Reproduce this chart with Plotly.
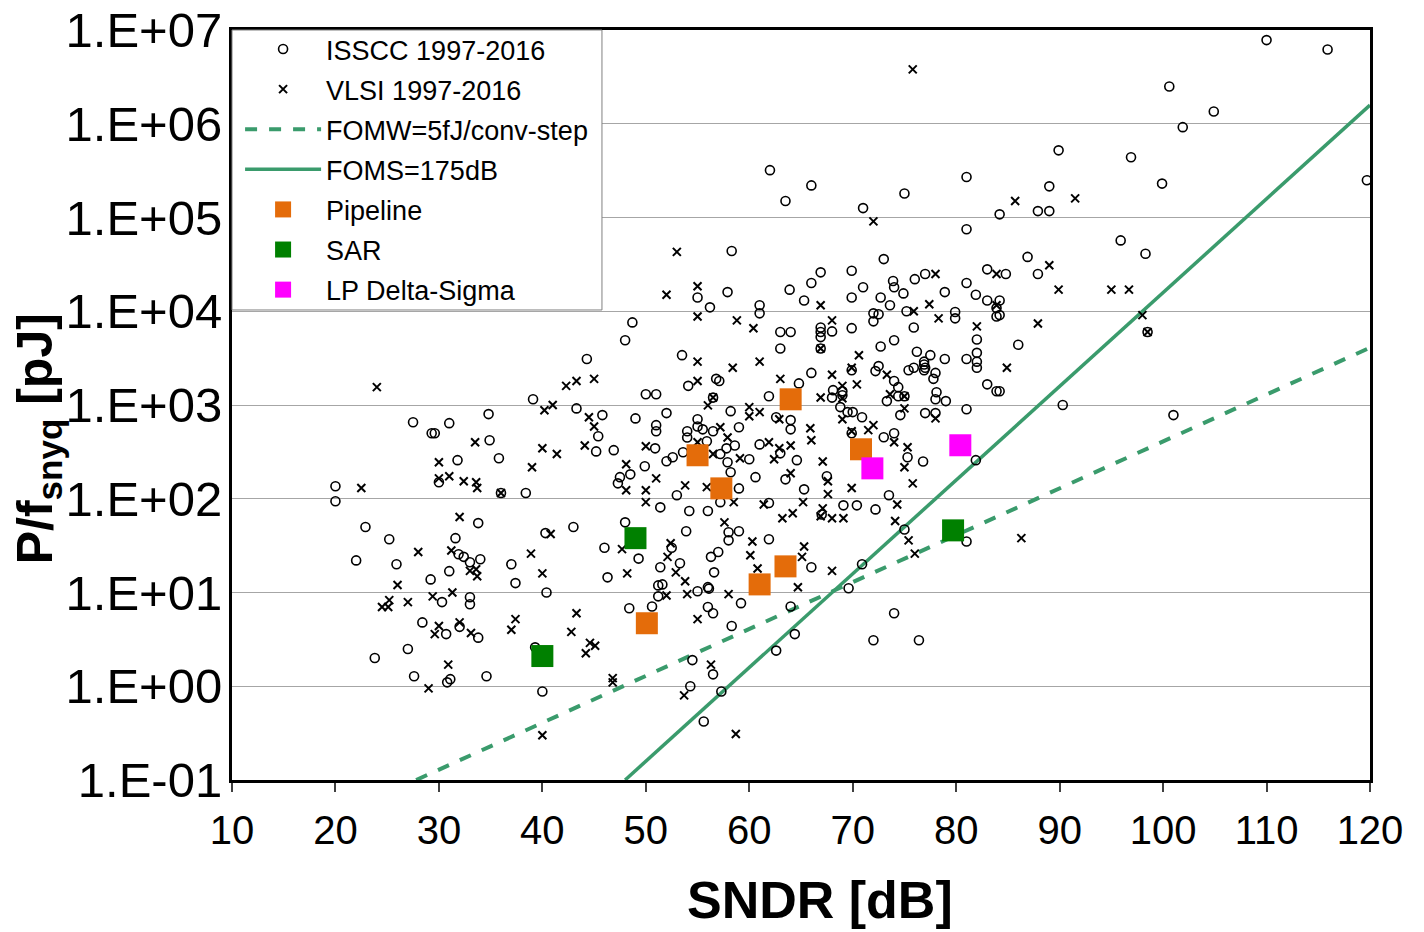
import plotly.graph_objects as go

# ---------------- data ----------------
isscc_sndr = [
    110.0, 115.9, 100.6, 104.9, 101.9, 119.7, 89.9, 96.9, 99.9, 89.0, 87.9, 89.0, 84.2, 95.9, 98.3, 86.9, 87.9, 84.8, 84.2, 84.2, 98.5, 86.0, 84.2, 90.3, 101.0,
    62.0, 66.0, 63.5, 71.0, 75.0, 81.0, 81.0, 58.3, 73.0, 66.9, 69.9, 73.9, 74.0, 76.0, 77.0, 81.0, 83.0, 78.9, 81.9, 83.0, 55.0, 57.9, 63.9, 66.0, 71.0, 69.9, 72.7, 74.9, 65.3,
    61.0, 61.0, 56.2, 63.0, 64.0, 63.0, 48.7, 48.0, 53.5, 44.3, 50.0, 51.0, 54.1, 56.8, 57.1, 64.8, 56.5, 61.9, 43.3, 45.8,
    45.4, 45.2, 49.0, 52.0, 46.9, 50.9, 51.0, 51.0, 55.0, 55.0, 55.5, 54.0, 54.0, 56.5, 59.0, 58.2, 62.6, 64.0, 64.0, 55.9,
    58.6, 57.8, 61.0, 63.0, 57.2, 53.6, 52.6, 52.0, 57.9, 60.0, 64.6, 49.9,
    73.6, 72.0, 72.5, 72.0, 75.2, 66.9, 66.9, 66.9, 68.0, 69.9, 79.9, 79.9, 83.9, 83.9, 75.9, 74.0, 72.7, 82.0, 66.9, 76.2,
    77.5, 76.9, 76.9, 76.9, 78.9, 81.0, 82.0, 82.0, 82.0, 66.0, 69.9, 72.2, 72.5, 74.0, 75.4, 75.9, 77.0, 78.0, 77.8, 83.0,
    83.9, 68.1, 69.0, 69.0, 68.0, 74.4, 73.3, 74.4, 75.0, 78.1, 78.0, 79.0, 68.8, 69.5, 70.0, 70.9, 74.6, 77.0, 78.0, 81.0,
    69.9, 74.0, 73.0, 75.3, 76.8, 81.9,
    32.9, 39.1, 27.5, 29.3, 29.6, 31.0, 34.8, 34.9, 35.8, 31.8,
    20.0, 20.0, 30.0, 36.0, 38.4, 33.8, 22.9, 25.2, 31.6, 40.3, 31.9, 32.4, 33.0, 34.0, 22.0, 25.9, 31.0, 29.2, 37.0, 37.4,
    40.4, 30.3, 33.0, 33.0, 28.4, 30.7, 32.0, 33.8,
    23.8, 27.0, 27.6, 30.8, 31.1, 34.6, 40.0, 39.3,
    47.5, 47.3, 48.5, 53.0, 59.0, 60.6, 63.5, 58.2, 57.2, 61.9, 51.4, 54.2, 56.0, 43.0, 48.0, 53.9, 58.0, 59.0, 58.0, 61.9,
    46.0, 49.3, 52.5, 53.3, 51.4, 57.0, 56.3, 56.6, 46.3, 51.2, 51.6, 51.2, 55.0, 56.0, 56.1, 59.2, 64.0, 48.4, 50.6, 56.0,
    56.5, 58.3, 64.4,
    54.5, 56.5, 54.3, 57.3, 55.6, 62.6,
    67.5, 65.3, 73.5, 69.1, 70.4, 72.2, 67.0, 75.0, 81.0, 66.0, 70.9, 69.6, 74.0, 72.0, 76.4,
]
isscc_energy = [
    7.8e6, 6.2e6, 2.5e6, 1.35e6, 9.2e5, 2.5e5, 5.2e5, 4.4e5, 2.3e5, 2.15e5, 1.17e5, 1.17e5, 1.08e5, 5.7e4, 4.1e4, 3.8e4, 2.5e4, 2.5e4, 1.3e4, 9.1e3, 6.0e3, 4.4e3, 1.4e3, 1.0e3, 780,
    3.2e5, 2.2e5, 1.5e5, 1.26e5, 1.8e5, 2.7e5, 7.5e4, 4.4e4, 3.6e4, 2.6e4, 2.7e4, 2.1e4, 1.8e4, 2.2e4, 2.5e4, 2.0e4, 2.8e4, 1.6e4, 1.5e4, 1.3e4, 1.4e4, 1.6e4, 1.7e4, 2.0e4, 1.8e4, 1.4e4, 1.4e4, 1.55e4, 1.3e4,
    1.16e4, 9.5e3, 1.1e4, 6.0e3, 6.0e3, 4.0e3, 7.6e3, 4.9e3, 3.4e3, 3.1e3, 1.3e3, 1.3e3, 1.6e3, 1.9e3, 1.8e3, 1.7e3, 1.2e3, 1.24e3, 920, 780,
    465, 320, 720, 820, 330, 345, 610, 525, 705, 590, 550, 525, 450, 525, 580, 860, 740, 690, 550, 410,
    370, 345, 380, 305, 300, 313, 277, 251, 245, 264, 258, 222,
    1.16e4, 9.5e3, 9.3e3, 7.8e3, 1.0e4, 6.7e3, 6.0e3, 5.3e3, 6.1e3, 6.6e3, 9.8e3, 8.4e3, 1.08e4, 8.8e3, 6.7e3, 4.9e3, 4.2e3, 5.0e3, 4.0e3, 3.7e3,
    3.4e3, 2.9e3, 2.7e3, 2.35e3, 3.1e3, 3.1e3, 3.6e3, 2.9e3, 2.5e3, 2.2e3, 2.35e3, 2.3e3, 2.6e3, 1.8e3, 2.35e3, 2.5e3, 2.5e3, 2.2e3, 1.9e3, 1.66e3,
    1.4e3, 1.44e3, 1.4e3, 1.27e3, 1.2e3, 1.55e3, 1.1e3, 1.24e3, 1.24e3, 1.37e3, 1.15e3, 1.1e3, 950, 840, 840, 740, 780, 820, 820, 900,
    500, 500, 453, 277, 250, 258,
    1.3e4, 1.15e3, 655, 500, 500, 640, 800, 420, 270, 258,
    136, 94, 150, 115, 115, 55, 50, 37, 38, 43, 25.6, 24, 21, 22.6, 22, 20, 16.9, 13.8, 20, 12.6,
    10, 7.9, 8.9, 7.5, 4.8, 3.6, 4.3, 3.3,
    2.0, 2.5, 1.28, 1.1, 1.19, 1.28, 0.88, 2.6,
    170, 146, 182, 109, 129, 170, 161, 192, 92, 90, 81, 74, 74, 50, 56, 45, 44, 45, 36, 37,
    30, 23, 30, 20.5, 18.6, 27, 24, 16.4, 14.5, 11.9, 12.2, 9.1, 10.3, 11.4, 11.0, 7.7, 7.1, 6.8, 7.1, 7.0,
    6.0, 4.4, 3.6,
    1.9, 1.34, 1.0, 0.88, 0.42, 2.4,
    174, 126, 109, 85, 85, 77, 68, 47, 35, 18.6, 20, 11.1, 6.0, 3.1, 3.1,
]

vlsi_sndr = [
    75.8, 91.5, 85.7, 72.0, 53.0, 89.0, 78.0, 83.9, 55.0, 52.0, 89.9, 95.0, 96.7, 98.0, 98.5, 87.9, 84.9, 86.3,
    55.0, 58.8, 60.4, 55.0, 58.4, 61.0, 42.3, 43.3, 45.0, 55.0, 63.0, 56.0, 44.5, 45.0, 44.1, 50.0, 57.2, 57.9, 60.0, 60.0,
    61.0, 62.9, 55.0, 61.9, 62.9, 64.0, 56.5, 59.1, 62.4, 48.1, 56.5,
    66.9, 77.4, 75.9, 68.0, 78.3, 83.9, 82.0, 66.9, 70.6, 68.0, 69.9, 70.4, 73.3, 69.0, 69.0, 66.9, 73.6, 75.0, 75.0, 69.0,
    65.9, 66.0, 69.9, 71.5, 72.0, 74.0, 75.3, 78.0, 67.1, 75.0,
    24.0, 40.2, 41.0, 33.5, 30.0, 40.0, 41.4, 39.0,
    22.5, 30.0, 31.0, 32.4, 33.6, 33.7, 36.0, 32.0, 40.8, 28.0, 31.2, 33.0, 33.6, 33.7, 38.9, 40.0, 26.0, 29.4, 31.3, 25.2,
    24.5, 25.1, 27.0, 30.0, 29.6, 32.0, 33.1, 37.4, 37.0,
    30.9, 29.0, 40.0,
    51.0, 48.1, 50.0, 50.0, 53.8, 55.9, 64.0, 58.5, 61.4, 63.2, 64.2, 57.6, 60.3, 47.7, 52.4, 52.1, 60.1, 60.8, 48.2, 52.9,
    53.8, 52.0, 54.0, 58.0, 64.7, 55.0, 43.3, 42.8,
    44.2, 44.6, 45.1, 46.8, 46.8, 56.3, 53.7, 58.7,
    67.6, 65.2, 67.6, 69.9, 75.8, 74.3, 67.1, 66.9, 68.0, 69.1, 74.1, 75.4, 76.0, 65.3, 65.1, 68.0,
]
vlsi_energy = [
    3.8e6, 1.6e5, 1.5e5, 9.1e4, 4.3e4, 3.1e4, 2.5e4, 2.5e4, 1.85e4, 1.5e4, 1.7e4, 1.7e4, 1.7e4, 9.1e3, 6.0e3, 7.4e3, 2.5e3, 38,
    8.8e3, 8.0e3, 6.6e3, 2.9e3, 2.5e3, 2.9e3, 1.6e3, 1.8e3, 1.9e3, 1.8e3, 1.9e3, 990, 740, 590, 370, 363, 580, 450, 950, 760,
    840, 705, 400, 400, 345, 370, 300, 270, 264, 233, 1.2e3,
    1.16e4, 1.19e4, 1.0e4, 8.0e3, 8.4e3, 1.16e4, 6.9e3, 4.0e3, 3.4e3, 2.1e3, 2.5e3, 1.66e3, 2.1e3, 1.6e3, 1.18e3, 1.2e3, 1.3e3, 1.24e3, 920, 705,
    565, 420, 525, 540, 610, 400, 355, 720, 250, 217,
    1.55e3, 880, 1.0e3, 400, 245, 345, 300, 217,
    130, 165, 174, 154, 150, 130, 115, 64, 42, 27, 28, 17, 17.7, 14.9, 26, 16, 12, 9.1, 10, 8.3,
    7.0, 7.0, 7.9, 4.4, 3.6, 4.8, 3.7, 5.2, 4.0,
    1.7, 0.95, 0.30,
    165, 123, 123, 92, 139, 133, 187, 92, 87, 62, 70, 56, 35, 29, 33.5, 24, 25, 18, 16, 16.4,
    13.2, 9.3, 9.6, 9.6, 11.4, 5.2, 6.0, 3.8,
    2.25, 2.9, 2.7, 1.22, 1.1, 1.7, 0.8, 0.31,
    154, 92, 112, 130, 146, 87, 79, 65, 62, 62, 58, 36, 26, 31, 24, 17,
]

pipeline_sndr = [55.0, 57.3, 64.0, 70.8, 61.0, 63.5, 50.1]
pipeline_energy = [291, 129, 1150, 337, 12.2, 19, 4.7]
sar_sndr = [49.0, 40.0, 79.7]
sar_energy = [38, 2.1, 46]
lpds_sndr = [71.9, 80.4]
lpds_energy = [211, 372]

fomw_sndr = [27.8, 120.0]      # FOMW = 5 fJ/conv-step
fomw_energy = [0.1, 4090.0]
foms_sndr = [48.0, 120.0]      # FOMS = 175 dB
foms_energy = [0.1, 1.58e6]

ytick_vals = [0.1, 1, 10, 100, 1e3, 1e4, 1e5, 1e6, 1e7]
ytick_text = ["1.E-01", "1.E+00", "1.E+01", "1.E+02", "1.E+03", "1.E+04", "1.E+05", "1.E+06", "1.E+07"]
xtick_vals = [10, 20, 30, 40, 50, 60, 70, 80, 90, 100, 110, 120]

# ---------------- figure ----------------
FONT = "Arial, 'Liberation Sans', sans-serif"
LINE_GREEN = "#3A9B6C"

fig = go.Figure()

fig.add_trace(go.Scatter(
    x=fomw_sndr, y=fomw_energy, mode="lines", name="FOMW=5fJ/conv-step",
    line=dict(color=LINE_GREEN, width=4, dash="dash"), legendrank=3, legendgroup="g3"))
fig.add_trace(go.Scatter(
    x=foms_sndr, y=foms_energy, mode="lines", name="FOMS=175dB",
    line=dict(color=LINE_GREEN, width=3.5), legendrank=4, legendgroup="g4"))
fig.add_trace(go.Scatter(
    x=isscc_sndr, y=isscc_energy, mode="markers", name="ISSCC 1997-2016",
    marker=dict(symbol="circle-open", size=9, color="black", line=dict(width=1.6, color="black")),
    legendrank=1, legendgroup="g1"))
fig.add_trace(go.Scatter(
    x=vlsi_sndr, y=vlsi_energy, mode="markers", name="VLSI 1997-2016",
    marker=dict(symbol="x-thin", size=8, color="black", line=dict(width=2, color="black")),
    legendrank=2, legendgroup="g2"))
fig.add_trace(go.Scatter(
    x=pipeline_sndr, y=pipeline_energy, mode="markers", name="Pipeline",
    marker=dict(symbol="square", size=22, color="#E46C0A", line=dict(width=0)),
    legendrank=5, legendgroup="g5"))
fig.add_trace(go.Scatter(
    x=sar_sndr, y=sar_energy, mode="markers", name="SAR",
    marker=dict(symbol="square", size=22, color="#008000", line=dict(width=0)),
    legendrank=6, legendgroup="g6"))
fig.add_trace(go.Scatter(
    x=lpds_sndr, y=lpds_energy, mode="markers", name="LP Delta-Sigma",
    marker=dict(symbol="square", size=22, color="#FF00FF", line=dict(width=0)),
    legendrank=7, legendgroup="g7"))

# legend frame (drawn as a shape so the entries can sit where the reference has them)
fig.add_shape(type="rect", xref="paper", yref="paper", x0=0, x1=0.3251, y0=0.6267, y1=1.0,
              fillcolor="white", line=dict(color="#808080", width=1), layer="above")

fig.update_layout(
    width=1424, height=932,
    margin=dict(l=232, r=54, t=30, b=152, autoexpand=False),
    paper_bgcolor="white", plot_bgcolor="white",
    font=dict(family=FONT, color="black"),
    showlegend=True,
    legend=dict(
        x=0.0071, y=1.0067, xanchor="left", yanchor="top",
        bgcolor="rgba(0,0,0,0)", borderwidth=0,
        font=dict(size=27, family=FONT, color="black"),
        traceorder="grouped", tracegroupgap=2, itemwidth=76,
    ),
    xaxis=dict(
        type="linear", range=[10, 120], tickvals=xtick_vals, automargin=False,
        showgrid=False, zeroline=False,
        showline=True, linecolor="black", linewidth=3, mirror=True,
        ticks="outside", ticklen=9, tickwidth=1.5, tickcolor="#404040",
        tickfont=dict(size=40, family=FONT, color="black"),
        ticklabelstandoff=4,
    ),
    yaxis=dict(
        type="log", range=[-1, 7], tickvals=ytick_vals, ticktext=ytick_text, automargin=False,
        showgrid=True, gridcolor="#A6A6A6", gridwidth=1,
        zeroline=False,
        showline=True, linecolor="black", linewidth=3, mirror=True,
        ticks="",
        tickfont=dict(size=49, family=FONT, color="black"),
        ticklabelstandoff=-3,
    ),
    annotations=[
        dict(text="SNDR [dB]", xref="paper", yref="paper", x=0.517, y=-0.16,
             xanchor="center", yanchor="middle", showarrow=False,
             font=dict(size=52, family=FONT, color="black", weight="bold")),
        dict(text="P/f<sub>snyq</sub> [pJ]", xref="paper", yref="paper", x=-0.17, y=0.455,
             xanchor="center", yanchor="middle", showarrow=False, textangle=-90,
             font=dict(size=50, family=FONT, color="black", weight="bold")),
    ],
)

fig.write_html("out.html")
